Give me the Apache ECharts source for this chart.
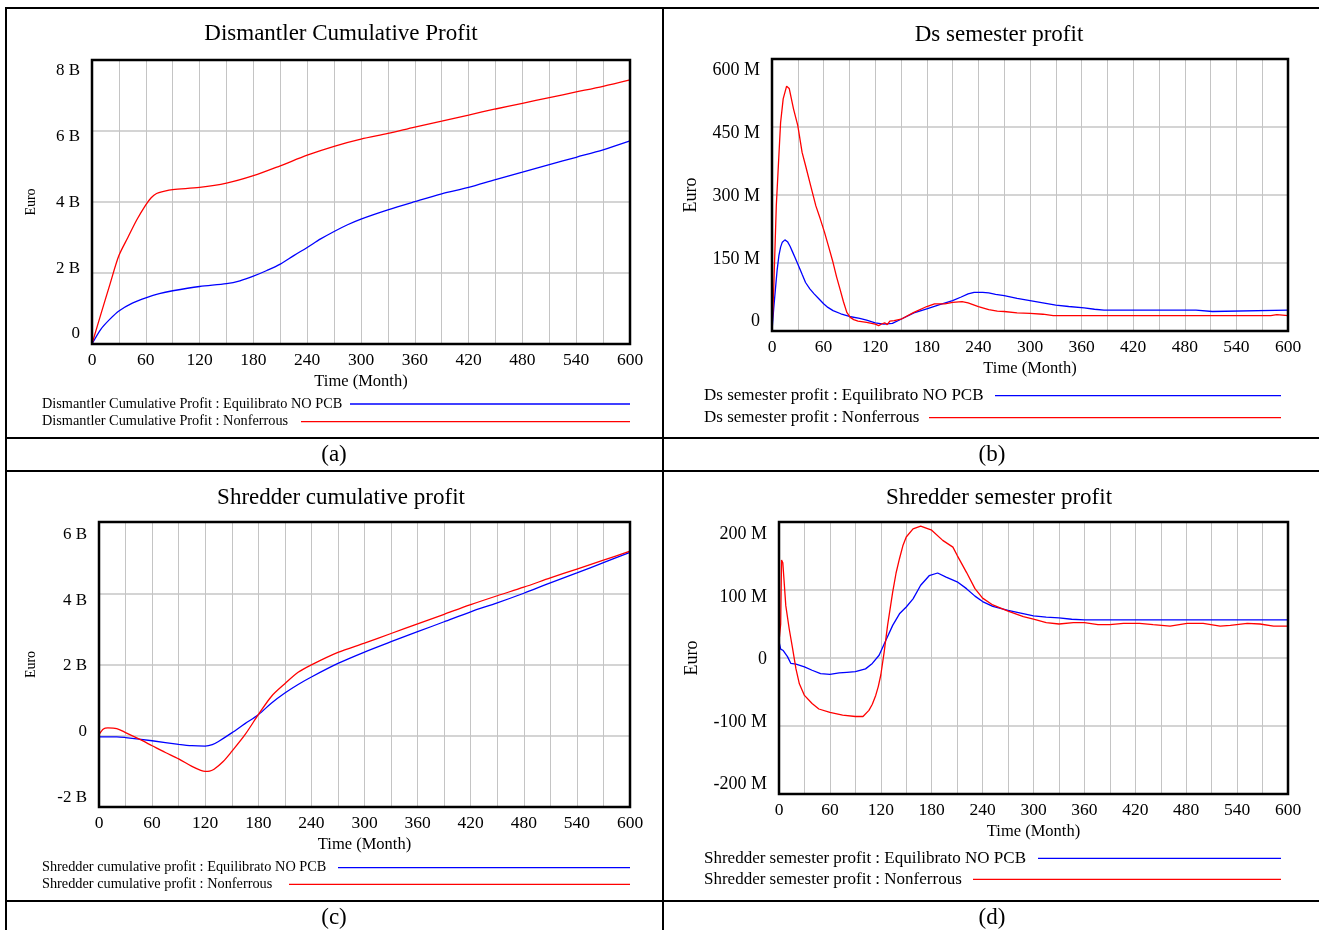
<!DOCTYPE html>
<html lang="en">
<head>
    <meta charset="UTF-8"/>
    <title>Profit comparison</title>
    <script type="text/javascript" src="https://cdn.jsdelivr.net/npm/echarts@6/dist/echarts.min.js"></script>
    <style>
        html, body { margin: 0; padding: 0; background: #fff; }
        #main { width: 1319px; height: 930px; }
    </style>
</head>
<body>
<div id="main"></div>
<script type="text/javascript">
    var FONT = '"Liberation Serif", "Times New Roman", serif'
    var BLUE = '#0000ff'
    var RED = '#ff0000'

    // x axis: months 0..600, gridline every 30, label every 60
    var xTicks = [0, 60, 120, 180, 240, 300, 360, 420, 480, 540, 600]

    // (a) Dismantler Cumulative Profit, billion euro
    var tDismEq = [0, 10, 20, 30, 45, 60, 75, 90, 120, 150, 165, 180, 195, 210, 225, 240, 255, 270, 285, 300, 330, 360, 390, 420, 450, 480, 510, 540, 570, 600]
    var dismEq = [0, 0.42, 0.7, 0.93, 1.15, 1.3, 1.42, 1.5, 1.62, 1.7, 1.78, 1.91, 2.07, 2.25, 2.49, 2.72, 2.96, 3.17, 3.36, 3.52, 3.78, 4.01, 4.23, 4.41, 4.63, 4.84, 5.05, 5.26, 5.47, 5.72]
    var tDismNf = [0, 10, 20, 30, 40, 50, 60, 66, 72, 80, 90, 120, 150, 180, 210, 240, 270, 300, 330, 360, 390, 420, 450, 480, 510, 540, 570, 600]
    var dismNf = [0, 0.85, 1.68, 2.49, 3.0, 3.5, 3.92, 4.12, 4.24, 4.3, 4.35, 4.41, 4.53, 4.74, 5.02, 5.32, 5.57, 5.77, 5.93, 6.11, 6.28, 6.45, 6.62, 6.78, 6.94, 7.1, 7.26, 7.44]
    var ticksA = [0, 2, 4, 6, 8]

    // (b) Ds semester profit, million euro
    var tDsEq = [0, 2, 4, 6, 8, 10, 12, 15, 18, 21, 24, 27, 30, 35, 39, 44, 49, 55, 60, 65, 71, 80, 90, 102, 110, 120, 130, 140, 150, 165, 180, 195, 210, 220, 228, 235, 245, 252, 260, 270, 285, 300, 315, 330, 345, 363, 375, 386, 493, 495, 512, 514, 600]
    var dsEq = [0, 50, 93, 135, 166, 185, 196, 201, 197, 187, 174, 161, 148, 125, 107, 93, 82, 70, 60, 52, 45, 38, 32, 28, 24, 18, 15, 17, 26, 40, 49, 58, 67, 75, 82, 85, 85, 84, 81, 78, 72, 67, 62, 57, 54, 51, 48, 46, 46, 43, 43, 46, 46]
    var tDsNf = [0, 2, 5, 8, 10, 13, 17, 20, 25, 30, 35, 39, 45, 51, 56, 61, 66, 71, 75, 79, 83, 87, 91, 95, 100, 110, 120, 124, 126, 128, 131, 134, 137, 142, 150, 165, 180, 189, 201, 210, 221, 228, 240, 252, 262, 270, 285, 300, 315, 327, 580, 581, 587, 589, 600]
    var dsNf = [0, 93, 276, 387, 460, 512, 540, 535, 490, 453, 394, 365, 320, 276, 248, 218, 185, 151, 120, 93, 65, 41, 30, 25, 22, 19, 15, 12, 8, 16, 18, 14, 22, 23, 26, 41, 54, 60, 60, 63, 65, 62, 54, 47, 44, 43, 40, 39, 37, 34, 34, 36, 36, 34, 34]
    var ticksB = [0, 150, 300, 450, 600]

    // (c) Shredder cumulative profit, billion euro
    var tShrEq = [0, 20, 30, 60, 90, 105, 120, 128, 135, 150, 165, 180, 195, 210, 225, 240, 270, 300, 330, 360, 390, 420, 450, 480, 510, 540, 570, 600]
    var shrEq = [-0.03, -0.03, -0.05, -0.14, -0.24, -0.28, -0.29, -0.25, -0.16, 0.08, 0.34, 0.59, 0.92, 1.2, 1.44, 1.65, 2.03, 2.35, 2.64, 2.92, 3.2, 3.48, 3.73, 4.0, 4.29, 4.57, 4.86, 5.15]
    var tShrNf = [0, 5, 10, 20, 30, 45, 60, 75, 90, 105, 115, 120, 125, 130, 140, 150, 165, 180, 195, 210, 225, 240, 270, 300, 330, 360, 390, 420, 450, 480, 510, 540, 570, 600]
    var shrNf = [0.03, 0.19, 0.22, 0.2, 0.09, -0.09, -0.28, -0.47, -0.65, -0.86, -0.97, -1.0, -0.99, -0.94, -0.73, -0.44, 0.03, 0.59, 1.11, 1.46, 1.78, 1.99, 2.34, 2.6, 2.87, 3.14, 3.41, 3.68, 3.93, 4.17, 4.43, 4.68, 4.93, 5.18]
    var ticksC = [-2, 0, 2, 4, 6]

    // (d) Shredder semester profit, million euro
    var tShrSemEq = [0, 2, 5, 7, 10, 14, 20, 30, 39, 49, 60, 71, 80, 90, 102, 110, 118, 126, 134, 142, 150, 158, 167, 177, 187, 197, 210, 221, 231, 240, 252, 270, 285, 300, 315, 330, 345, 360, 600]
    var shrSemEq = [24, 13, 11, 10, 2, -8, -9, -13, -18, -23, -24, -22, -21, -20, -16, -8, 4, 26, 48, 65, 75, 87, 107, 121, 125, 119, 112, 102, 91, 83, 76, 70, 66, 62, 60, 59, 57, 56, 56]
    var tShrSemNf = [0, 2, 3, 4.5, 8, 12, 16, 20, 24, 30, 39, 47, 60, 75, 90, 99, 106, 110, 114, 117, 120, 124, 128, 134, 138, 142, 146, 150, 158, 167, 180, 193, 205, 210, 221, 231, 240, 252, 270, 288, 300, 315, 330, 347, 360, 376, 390, 406, 425, 441, 461, 481, 500, 520, 532, 552, 567, 583, 600]
    var shrSemNf = [24, 50, 144, 140, 77, 43, 14, -16, -38, -55, -67, -75, -80, -84, -86, -86, -77, -68, -55, -42, -25, 9, 48, 97, 125, 146, 165, 178, 190, 194, 188, 173, 163, 151, 126, 102, 88, 78, 69, 61, 57, 52, 50, 52, 52, 49, 49, 51, 51, 49, 47, 51, 51, 47, 48, 51, 50, 47, 47]
    var ticksD = [-200, -100, 0, 100, 200]

    function pairs(t, v) {
        return t.map(function (x, i) { return [x, v[i]] })
    }

    // label axis range: Vensim draws its tick labels a little inside the frame
    function labelRange(lo, hi, h, inTop, inBot) {
        var k = (hi - lo) / (h - inTop - inBot)
        return {min: lo - inBot * k, max: hi + inTop * k}
    }

    var panels = [
        {box: [92, 60, 538, 284], ticks: ticksA, unit: ' B', lab: 17, name: 14, gap: 54, inset: [11, 10],
            smooth: 0.3, data: [[tDismEq, dismEq], [tDismNf, dismNf]]},
        {box: [772, 59, 516, 272], ticks: ticksB, unit: ' M', lab: 18, name: 18, gap: 72, inset: [11.7, 9.3],
            smooth: false, data: [[tDsEq, dsEq], [tDsNf, dsNf]]},
        {box: [99, 522, 531, 285], ticks: ticksC, unit: ' B', lab: 17, name: 14, gap: 61, inset: [12.3, 9.7],
            smooth: 0.3, data: [[tShrEq, shrEq], [tShrNf, shrNf]]},
        {box: [779, 522, 509, 272], ticks: ticksD, unit: ' M', lab: 18, name: 18, gap: 78, inset: [12.3, 9.7],
            smooth: false, data: [[tShrSemEq, shrSemEq], [tShrSemNf, shrSemNf]]}
    ]

    var grids = [], xAxes = [], yAxes = [], series = [], graphics = []

    panels.forEach(function (p, i) {
        var lo = p.ticks[0], hi = p.ticks[p.ticks.length - 1]
        var r = labelRange(lo, hi, p.box[3], p.inset[0], p.inset[1])
        grids.push({left: p.box[0], top: p.box[1], width: p.box[2], height: p.box[3]})
        xAxes.push({
            type: 'value', gridIndex: i, min: 0, max: 600, interval: 30,
            axisLine: {show: false}, axisTick: {show: false},
            splitLine: {show: true, lineStyle: {color: '#c4c4c4', width: 1}},
            axisLabel: {
                color: '#000', fontFamily: FONT, fontSize: 17.5, margin: 7,
                formatter: function (v) { return xTicks.indexOf(v) >= 0 ? String(v) : '' }
            },
            name: 'Time (Month)', nameLocation: 'middle', nameGap: 29,
            nameTextStyle: {color: '#000', fontFamily: FONT, fontSize: 16.5}
        })
        // gridline axis
        yAxes.push({
            type: 'value', gridIndex: i, min: lo, max: hi, interval: p.ticks[1] - p.ticks[0],
            axisLine: {show: false}, axisTick: {show: false}, axisLabel: {show: false},
            splitLine: {show: true, lineStyle: {color: '#d4d4d4', width: 2}}
        })
        // label axis
        yAxes.push({
            type: 'value', gridIndex: i, min: r.min, max: r.max, position: 'left',
            axisLine: {show: false}, axisTick: {show: false}, splitLine: {show: false},
            axisLabel: {
                customValues: p.ticks, color: '#000', fontFamily: FONT, fontSize: p.lab, margin: 12,
                formatter: function (v) { return Math.abs(v) < 1e-9 ? '0' : Math.round(v) + p.unit }
            },
            name: 'Euro', nameLocation: 'middle', nameGap: p.gap,
            nameTextStyle: {color: '#000', fontFamily: FONT, fontSize: p.name}
        })
        p.data.forEach(function (d, j) {
            series.push({
                type: 'line', xAxisIndex: i, yAxisIndex: 2 * i, data: pairs(d[0], d[1]),
                showSymbol: false, smooth: p.smooth, silent: true,
                lineStyle: {color: j === 0 ? BLUE : RED, width: 1.3}
            })
        })
        graphics.push({
            type: 'rect', z: 100, silent: true,
            shape: {x: p.box[0], y: p.box[1], width: p.box[2], height: p.box[3]},
            style: {fill: null, stroke: '#000', lineWidth: 2.5}
        })
    })

    function gText(x, y, text, size, align) {
        graphics.push({
            type: 'text', x: x, y: y, z: 100, silent: true,
            style: {text: text, fill: '#000', fontFamily: FONT, fontSize: size,
                align: align || 'center', verticalAlign: 'middle'}
        })
    }

    function gLine(x1, y1, x2, y2, color, w) {
        graphics.push({
            type: 'line', z: 100, silent: true,
            shape: {x1: x1, y1: y1, x2: x2, y2: y2},
            style: {stroke: color, lineWidth: w}
        })
    }

    // table rules
    gLine(6, 8, 1319, 8, '#000', 2)
    gLine(6, 7, 6, 930, '#000', 2)
    gLine(663, 7, 663, 930, '#000', 2)
    gLine(6, 438, 1319, 438, '#000', 2)
    gLine(6, 471, 1319, 471, '#000', 2)
    gLine(6, 901, 1319, 901, '#000', 2)

    // titles and captions
    gText(341, 34, 'Dismantler Cumulative Profit', 23)
    gText(999, 35, 'Ds semester profit', 23)
    gText(341, 498, 'Shredder cumulative profit', 23)
    gText(999, 498, 'Shredder semester profit', 23)
    gText(334, 455, '(a)', 23)
    gText(992, 455, '(b)', 23)
    gText(334, 918, '(c)', 23)
    gText(992, 918, '(d)', 23)

    // legends: text, then a line running to the right
    var legendRows = [
        [42, 404, 14.3, 'Dismantler Cumulative Profit : Equilibrato NO PCB', 350, 630, BLUE],
        [42, 421.7, 14.3, 'Dismantler Cumulative Profit : Nonferrous', 301, 630, RED],
        [704, 395.7, 17, 'Ds semester profit : Equilibrato NO PCB', 995, 1281, BLUE],
        [704, 417.7, 17, 'Ds semester profit : Nonferrous', 929, 1281, RED],
        [42, 867.7, 14.3, 'Shredder cumulative profit : Equilibrato NO PCB', 338, 630, BLUE],
        [42, 884.3, 14.3, 'Shredder cumulative profit : Nonferrous', 289, 630, RED],
        [704, 858.3, 17, 'Shredder semester profit : Equilibrato NO PCB', 1038, 1281, BLUE],
        [704, 879.3, 17, 'Shredder semester profit : Nonferrous', 973, 1281, RED]
    ]
    legendRows.forEach(function (r) {
        gText(r[0], r[1], r[3], r[2], 'left')
        gLine(r[4], r[1], r[5], r[1], r[6], 1.3)
    })

    var myChart = echarts.init(document.getElementById('main'))
    myChart.setOption({
        animation: false,
        backgroundColor: '#fff',
        grid: grids,
        xAxis: xAxes,
        yAxis: yAxes,
        series: series,
        graphic: graphics
    })
</script>
</body>
</html>
